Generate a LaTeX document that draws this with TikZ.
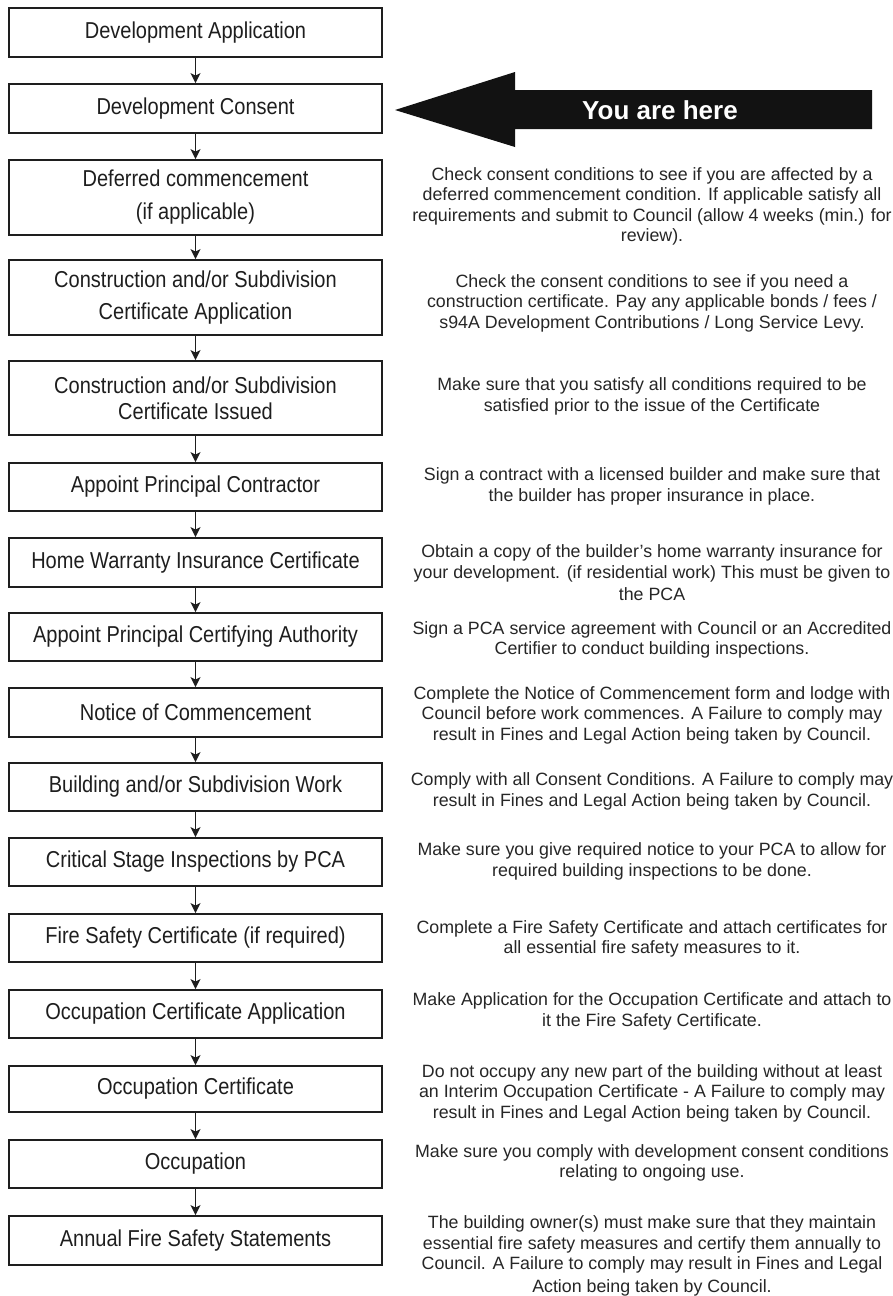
\documentclass[tikz,border=0pt]{standalone}
\usepackage{fontspec}
\setmainfont{Liberation Sans}
\newfontfamily\boxfont[FakeStretch=0.87]{Liberation Sans}
\usetikzlibrary{arrows.meta}
\definecolor{ink}{HTML}{1E1E1E}
\definecolor{noteink}{HTML}{262626}
\begin{document}
\begin{tikzpicture}[x=1pt,y=-1pt,
  stage/.style={draw=ink, line width=1.8pt, minimum width=373pt, inner sep=0pt,
    align=center, text=ink, font=\boxfont\fontsize{23}{26}\selectfont},
  note/.style={align=center, text=noteink, inner sep=0pt,
    font=\fontsize{17.8}{20.5}\selectfont},
  flow/.style={draw=ink, line width=1.6pt, -{Stealth[length=10pt,width=10pt,inset=2.5pt]}}
]
\useasboundingbox (0,0) rectangle (893,1296);
\fill[white] (0,0) rectangle (893,1296);

% stage boxes
\node[stage, minimum height=49pt] (s1)  at (195.5,32.5)  {Development Application};
\node[stage, minimum height=49pt] (s2)  at (195.5,108.5) {Development Consent};
\node[stage, minimum height=75pt] (s3)  at (195.5,197.5) {Deferred commencement\\[7pt](if applicable)};
\node[stage, minimum height=75pt] (s4)  at (195.5,297.5) {Construction and/or Subdivision\\[6pt]Certificate Application};
\node[stage, minimum height=74pt] (s5)  at (195.5,398)   {Construction and/or Subdivision\\Certificate Issued};
\node[stage, minimum height=48pt] (s6)  at (195.5,487)   {Appoint Principal Contractor};
\node[stage, minimum height=49pt] (s7)  at (195.5,562.5) {Home Warranty Insurance Certificate};
\node[stage, minimum height=48pt] (s8)  at (195.5,637)   {Appoint Principal Certifying Authority};
\node[stage, minimum height=49pt] (s9)  at (195.5,712.5) {Notice of Commencement};
\node[stage, minimum height=48pt] (s10) at (195.5,787)   {Building and/or Subdivision Work};
\node[stage, minimum height=48pt] (s11) at (195.5,862)   {Critical Stage Inspections by PCA};
\node[stage, minimum height=48pt] (s12) at (195.5,938)   {Fire Safety Certificate (if required)};
\node[stage, minimum height=48pt] (s13) at (195.5,1014)  {Occupation Certificate Application};
\node[stage, minimum height=46pt] (s14) at (195.5,1089)  {Occupation Certificate};
\node[stage, minimum height=48pt] (s15) at (195.5,1164)  {Occupation};
\node[stage, minimum height=49pt] (s16) at (195.5,1240.5){Annual Fire Safety Statements};

% connectors
\foreach \a/\b in {s1/s2,s2/s3,s3/s4,s4/s5,s5/s6,s6/s7,s7/s8,s8/s9,s9/s10,s10/s11,s11/s12,s12/s13,s13/s14,s14/s15,s15/s16}
  \draw[flow] (\a) -- (\b);

% "You are here" arrow
\fill[black!93] (395,110) -- (515,72) -- (515,90) -- (872,90) -- (872,129) -- (515,129) -- (515,147) -- cycle;
\node[text=white, font=\bfseries\fontsize{26}{30}\selectfont, inner sep=0pt] (here) at (660,110) {You are here};

% notes
\node[note] (n3) at (652,206.5) {Check consent conditions to see if you are affected by a\\
deferred commencement condition. If applicable satisfy all\\
requirements and submit to Council (allow 4 weeks (min.) for\\
review).};
\node[note] (n4) at (652,303) {Check the consent conditions to see if you need a\\
construction certificate. Pay any applicable bonds / fees /\\
s94A Development Contributions / Long Service Levy.};
\node[note] (n5) at (652,396.5) {Make sure that you satisfy all conditions required to be\\
satisfied prior to the issue of the Certificate};
\node[note] (n6) at (652,486.5) {Sign a contract with a licensed builder and make sure that\\
the builder has proper insurance in place.};
\node[note] (n7) at (652,573) {Obtain a copy of the builder’s home warranty insurance for\\
your development. (if residential work) This must be given to\\[2pt]
the PCA};
\node[note] (n8) at (652,640) {Sign a PCA service agreement with Council or an Accredited\\
Certifier to conduct building inspections.};
\node[note] (n9) at (652,715) {Complete the Notice of Commencement form and lodge with\\
Council before work commences. A Failure to comply may\\
result in Fines and Legal Action being taken by Council.};
\node[note] (n10) at (652,791.5) {Comply with all Consent Conditions. A Failure to comply may\\
result in Fines and Legal Action being taken by Council.};
\node[note] (n11) at (652,861.5) {Make sure you give required notice to your PCA to allow for\\
required building inspections to be done.};
\node[note] (n12) at (652,939) {Complete a Fire Safety Certificate and attach certificates for\\
all essential fire safety measures to it.};
\node[note] (n13) at (652,1011.5) {Make Application for the Occupation Certificate and attach to\\
it the Fire Safety Certificate.};
\node[note] (n14) at (652,1093) {Do not occupy any new part of the building without at least\\
an Interim Occupation Certificate - A Failure to comply may\\
result in Fines and Legal Action being taken by Council.};
\node[note] (n15) at (652,1163) {Make sure you comply with development consent conditions\\
relating to ongoing use.};
\node[note] (n16) at (652,1256) {The building owner(s) must make sure that they maintain\\
essential fire safety measures and certify them annually to\\
Council. A Failure to comply may result in Fines and Legal\\[2pt]
Action being taken by Council.};
\end{tikzpicture}
\end{document}
